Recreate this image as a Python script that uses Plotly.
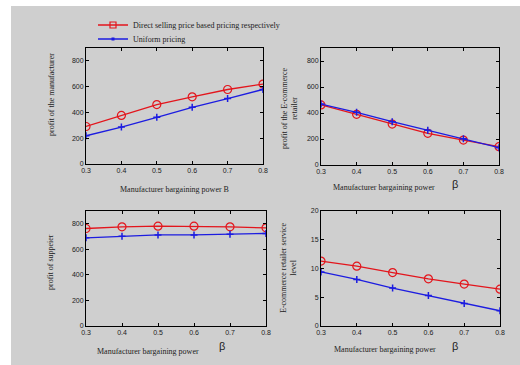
import plotly.graph_objects as go

beta = [0.3, 0.4, 0.5, 0.6, 0.7, 0.8]

manu_direct = [291, 377, 461, 521, 578, 620]
manu_uniform = [219, 287, 362, 440, 508, 578]

retail_direct = [462, 390, 315, 244, 192, 141]
retail_uniform = [469, 405, 333, 267, 202, 133]

supp_direct = [763, 776, 781, 781, 776, 768]
supp_uniform = [690, 703, 713, 713, 719, 724]

service_direct = [11.3, 10.4, 9.3, 8.2, 7.3, 6.4]
service_uniform = [9.4, 8.1, 6.6, 5.3, 3.9, 2.65]

legend_names = ["Direct selling price based pricing respectively", "Uniform pricing"]

RED = "#e3151c"
BLUE = "#1c1ce0"
W, H = 520, 365

fig = go.Figure()

panels = [
    ("x", "y", manu_direct, manu_uniform),
    ("x2", "y2", retail_direct, retail_uniform),
    ("x3", "y3", supp_direct, supp_uniform),
    ("x4", "y4", service_direct, service_uniform),
]
for xa, ya, d, u in panels:
    fig.add_trace(go.Scatter(x=beta, y=d, xaxis=xa, yaxis=ya, mode="lines+markers",
                             line=dict(color=RED, width=1.3),
                             marker=dict(symbol="circle-open", size=8, color=RED, line=dict(width=1.2)),
                             showlegend=False))
    fig.add_trace(go.Scatter(x=beta, y=u, xaxis=xa, yaxis=ya, mode="lines+markers",
                             line=dict(color=BLUE, width=1.3),
                             marker=dict(symbol="cross-thin", size=5, color=BLUE, line=dict(width=1.5, color=BLUE)),
                             showlegend=False))

# legend entries
fig.add_trace(go.Scatter(x=[None], y=[None], mode="lines+markers", name=legend_names[0], legend="legend",
                         line=dict(color=RED, width=1.3),
                         marker=dict(symbol="square-open", size=6, color=RED, line=dict(width=1.2))))
fig.add_trace(go.Scatter(x=[None], y=[None], mode="lines+markers", name=legend_names[1], legend="legend2",
                         line=dict(color=BLUE, width=1.3),
                         marker=dict(symbol="square", size=3, color=BLUE)))

def px_dom_x(a, b):
    return [a / W, b / W]

def px_dom_y(top, bot):
    return [1 - bot / H, 1 - top / H]

tickfont = dict(family="Liberation Sans", size=7, color="#222")
common_x = dict(range=[0.3, 0.8], tickvals=beta, ticktext=["0.3", "0.4", "0.5", "0.6", "0.7", "0.8"],
                showline=True, linecolor="black", linewidth=1, mirror="ticks", ticks="inside",
                ticklen=3, tickcolor="black", showgrid=False, zeroline=False, tickfont=tickfont,
                automargin=False)
common_y = dict(showline=True, linecolor="black", linewidth=1, mirror="ticks", ticks="inside",
                ticklen=3, tickcolor="black", showgrid=False, zeroline=False, tickfont=tickfont,
                automargin=False)

fig.update_layout(
    xaxis=dict(domain=px_dom_x(86, 263), anchor="y", **common_x),
    yaxis=dict(domain=px_dom_y(48, 164), anchor="x", range=[0, 900], tickvals=[0, 200, 400, 600, 800], **common_y),
    xaxis2=dict(domain=px_dom_x(321, 499), anchor="y2", **common_x),
    yaxis2=dict(domain=px_dom_y(48, 165), anchor="x2", range=[0, 900], tickvals=[0, 200, 400, 600, 800], **common_y),
    xaxis3=dict(domain=px_dom_x(86, 266), anchor="y3", **common_x),
    yaxis3=dict(domain=px_dom_y(211, 326), anchor="x3", range=[0, 900], tickvals=[0, 200, 400, 600, 800], **common_y),
    xaxis4=dict(domain=px_dom_x(321, 500), anchor="y4", **common_x),
    yaxis4=dict(domain=px_dom_y(211, 326), anchor="x4", range=[0, 20], tickvals=[0, 5, 10, 15, 20], **common_y),
)

titlefont = dict(family="Liberation Serif", size=8, color="#222")
ann = [
    (174, 189, "Manufacturer bargaining power B", 0),
    (384, 187, "Manufacturer bargaining power", 0),
    (148, 351, "Manufacturer bargaining power", 0),
    (385, 349, "Manufacturer bargaining power", 0),
    (52, 95, "profit of the manufacturer", -90),
    (289, 108, "profit of the E-commerce<br>retailer", -90),
    (50, 262, "profit of suppeier", -90),
    (288, 268, "E-commerce retailer service<br>level", -90),
]
annotations = []
for x, y, t, a in ann:
    annotations.append(dict(x=x / W, y=1 - y / H, xref="paper", yref="paper", text=t, showarrow=False,
                            textangle=a, font=titlefont, xanchor="center", yanchor="middle"))
for x, y in [(455, 184), (222, 346), (455, 346)]:
    annotations.append(dict(x=x / W, y=1 - y / H, xref="paper", yref="paper", text="β", showarrow=False,
                            font=dict(family="Liberation Sans", size=11, color="#222"),
                            xanchor="center", yanchor="middle"))

legfont = dict(family="Liberation Serif", size=8, color="#222")
fig.update_layout(
    width=W, height=H,
    autosize=False,
    margin=dict(l=0, r=0, t=0, b=0, pad=0, autoexpand=False),
    paper_bgcolor="white",
    plot_bgcolor="rgba(0,0,0,0)",
    annotations=annotations,
    shapes=[dict(type="rect", xref="paper", yref="paper", x0=11 / W, x1=1, y0=0, y1=1 - 6 / H,
                 fillcolor="#cfcfcf", line=dict(width=0), layer="below")],
    legend=dict(x=93 / W, y=1 - 25 / H, xanchor="left", yanchor="middle", bgcolor="rgba(0,0,0,0)",
                font=legfont, itemwidth=30),
    legend2=dict(x=93 / W, y=1 - 39 / H, xanchor="left", yanchor="middle", bgcolor="rgba(0,0,0,0)",
                 font=legfont, itemwidth=30),
)

post = (
    "var h=document.documentElement,b=document.body;"
    "[h,b].forEach(function(e){e.style.margin='0';e.style.padding='0';e.style.overflow='hidden';});"
)
fig.write_html("out.html", config={"displayModeBar": False, "responsive": False},
               default_width="520px", default_height="365px", post_script=post)
